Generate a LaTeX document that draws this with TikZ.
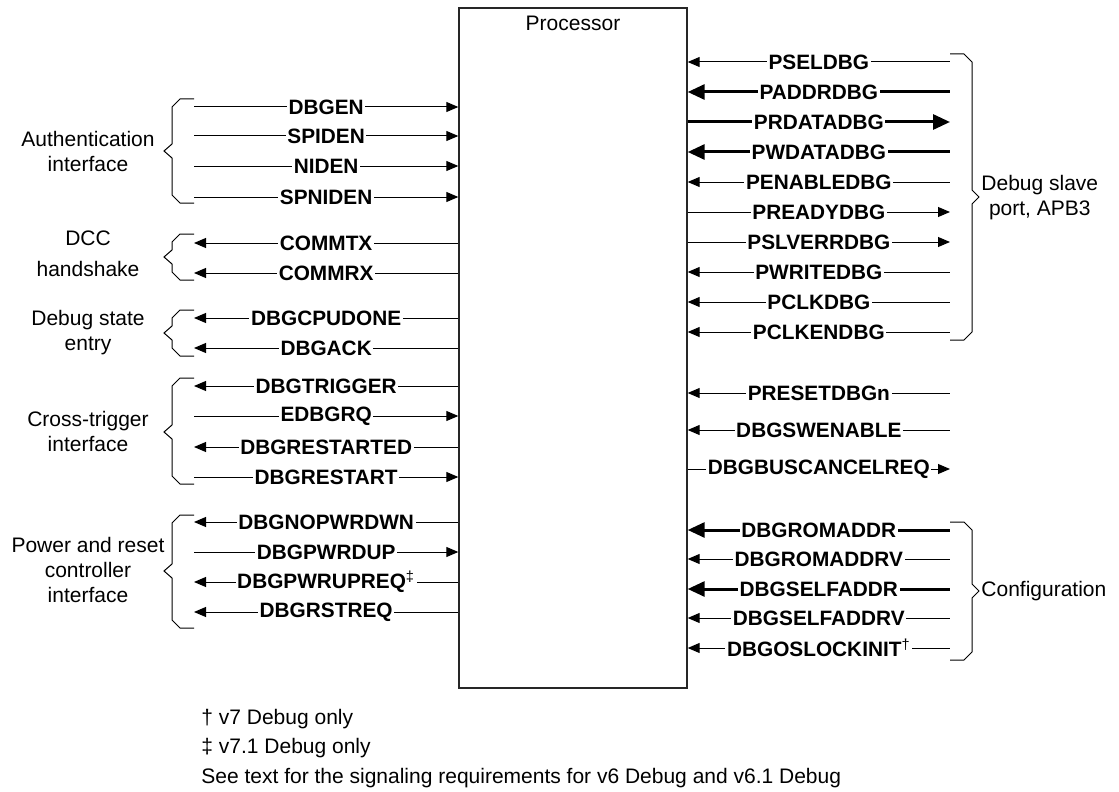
\documentclass[tikz,border=0pt]{standalone}
\usepackage{fontspec}
\setmainfont{Liberation Sans}
\usetikzlibrary{arrows.meta, positioning}

\begin{document}
\begin{tikzpicture}[x=0.5pt, y=-0.5pt, >={Triangle[length=6pt, width=5pt]}]

  % Styles
  \tikzset{
    cpu box/.style={draw=black!85, line width=0.7pt, minimum width=114pt, minimum height=340pt, inner sep=0pt},
    sig/.style={line width=0.5pt},
    bus/.style={line width=1.5pt, >={Triangle[length=8.5pt, width=7.5pt]}},
    sig label/.style={font=\fontsize{10.4}{12}\selectfont\bfseries, fill=white, inner xsep=0.8pt, inner ysep=1pt},
    group label/.style={font=\fontsize{10.5}{12.5}\selectfont, align=center, inner sep=1pt},
    brace line/.style={line width=0.5pt, line join=miter},
    note/.style={font=\fontsize{10.5}{12}\selectfont, anchor=west, inner sep=0pt}
  }

  \useasboundingbox (0,0) rectangle (1119,792);

  % --- PROCESSOR ---
  \node[cpu box] (cpu) at (573,348) {};
  \node[group label, below=3pt of cpu.north] (title) {Processor};

  % --- LEFT SIGNALS ---
  % Authentication interface
  \coordinate (dbgen) at (194,107);
  \coordinate (spiden) at (194,136);
  \coordinate (niden) at (194,166);
  \coordinate (spniden) at (194,197);
  \draw[sig, ->] (dbgen) -- (dbgen -| cpu.west) node[midway, sig label] {DBGEN};
  \draw[sig, ->] (spiden) -- (spiden -| cpu.west) node[midway, sig label] {SPIDEN};
  \draw[sig, ->] (niden) -- (niden -| cpu.west) node[midway, sig label] {NIDEN};
  \draw[sig, ->] (spniden) -- (spniden -| cpu.west) node[midway, sig label] {SPNIDEN};

  % DCC handshake
  \coordinate (commtx) at (194,243);
  \coordinate (commrx) at (194,273);
  \draw[sig, <-] (commtx) -- (commtx -| cpu.west) node[midway, sig label] {COMMTX};
  \draw[sig, <-] (commrx) -- (commrx -| cpu.west) node[midway, sig label] {COMMRX};

  % Debug state entry
  \coordinate (cpudone) at (194,318);
  \coordinate (dbgack) at (194,348);
  \draw[sig, <-] (cpudone) -- (cpudone -| cpu.west) node[midway, sig label] {DBGCPUDONE};
  \draw[sig, <-] (dbgack) -- (dbgack -| cpu.west) node[midway, sig label] {DBGACK};

  % Cross-trigger interface
  \coordinate (trigger) at (194,386);
  \coordinate (edbgrq) at (194,416);
  \coordinate (restarted) at (194,447);
  \coordinate (restart) at (194,477);
  \draw[sig, <-] (trigger) -- (trigger -| cpu.west) node[midway, sig label] {DBGTRIGGER};
  \draw[sig, ->] (edbgrq) -- (edbgrq -| cpu.west) node[midway, sig label] {EDBGRQ};
  \draw[sig, <-] (restarted) -- (restarted -| cpu.west) node[midway, sig label] {DBGRESTARTED};
  \draw[sig, ->] (restart) -- (restart -| cpu.west) node[midway, sig label] {DBGRESTART};

  % Power and reset controller interface
  \coordinate (nopwrdwn) at (194,522);
  \coordinate (pwrdup) at (194,552);
  \coordinate (pwrupreq) at (194,582);
  \coordinate (rstreq) at (194,612);
  \draw[sig, <-] (nopwrdwn) -- (nopwrdwn -| cpu.west) node[midway, sig label] {DBGNOPWRDWN};
  \draw[sig, ->] (pwrdup) -- (pwrdup -| cpu.west) node[midway, sig label] {DBGPWRDUP};
  \draw[sig, <-] (pwrupreq) -- (pwrupreq -| cpu.west) node[midway, sig label] {DBGPWRUPREQ\textsuperscript{\normalfont ‡}};
  \draw[sig, <-] (rstreq) -- (rstreq -| cpu.west) node[midway, sig label] {DBGRSTREQ};

  % --- RIGHT SIGNALS ---
  % Debug slave port
  \coordinate (psel) at (950,62);
  \coordinate (paddr) at (950,92);
  \coordinate (prdata) at (950,122);
  \coordinate (pwdata) at (950,152);
  \coordinate (penable) at (950,182);
  \coordinate (pready) at (950,212);
  \coordinate (pslverr) at (950,242);
  \coordinate (pwrite) at (950,272);
  \coordinate (pclk) at (950,302);
  \coordinate (pclken) at (950,332);
  \draw[sig, <-] (psel -| cpu.east) -- (psel) node[midway, sig label] {PSELDBG};
  \draw[bus, <-] (paddr -| cpu.east) -- (paddr) node[midway, sig label] {PADDRDBG};
  \draw[bus, ->] (prdata -| cpu.east) -- (prdata) node[midway, sig label] {PRDATADBG};
  \draw[bus, <-] (pwdata -| cpu.east) -- (pwdata) node[midway, sig label] {PWDATADBG};
  \draw[sig, <-] (penable -| cpu.east) -- (penable) node[midway, sig label] {PENABLEDBG};
  \draw[sig, ->] (pready -| cpu.east) -- (pready) node[midway, sig label] {PREADYDBG};
  \draw[sig, ->] (pslverr -| cpu.east) -- (pslverr) node[midway, sig label] {PSLVERRDBG};
  \draw[sig, <-] (pwrite -| cpu.east) -- (pwrite) node[midway, sig label] {PWRITEDBG};
  \draw[sig, <-] (pclk -| cpu.east) -- (pclk) node[midway, sig label] {PCLKDBG};
  \draw[sig, <-] (pclken -| cpu.east) -- (pclken) node[midway, sig label] {PCLKENDBG};

  % Ungrouped signals
  \coordinate (presetn) at (950,393);
  \coordinate (swenable) at (950,430);
  \coordinate (buscancel) at (950,469);
  \draw[sig, <-] (presetn -| cpu.east) -- (presetn) node[midway, sig label] {PRESETDBGn};
  \draw[sig, <-] (swenable -| cpu.east) -- (swenable) node[midway, sig label] {DBGSWENABLE};
  \draw[sig, ->] (buscancel -| cpu.east) -- (buscancel) node[midway, sig label] {DBGBUSCANCELREQ};

  % Configuration
  \coordinate (romaddr) at (950,530);
  \coordinate (romaddrv) at (950,559);
  \coordinate (selfaddr) at (950,589);
  \coordinate (selfaddrv) at (950,618);
  \coordinate (oslockinit) at (950,648);
  \draw[bus, <-] (romaddr -| cpu.east) -- (romaddr) node[midway, sig label] {DBGROMADDR};
  \draw[sig, <-] (romaddrv -| cpu.east) -- (romaddrv) node[midway, sig label] {DBGROMADDRV};
  \draw[bus, <-] (selfaddr -| cpu.east) -- (selfaddr) node[midway, sig label] {DBGSELFADDR};
  \draw[sig, <-] (selfaddrv -| cpu.east) -- (selfaddrv) node[midway, sig label] {DBGSELFADDRV};
  \draw[sig, <-] (oslockinit -| cpu.east) -- (oslockinit) node[midway, sig label] {DBGOSLOCKINIT\textsuperscript{\normalfont †}};

  % --- BRACES ---
  \draw[brace line] (194,99) -- (180,99) -- (172,107) -- (172,144) -- (164,151) -- (172,158) -- (172,195) -- (180,203) -- (194,203);
  \draw[brace line] (194,234) -- (180,234) -- (172,242) -- (172,250) -- (164,257) -- (172,264) -- (172,272) -- (180,280) -- (194,280);
  \draw[brace line] (194,310) -- (180,310) -- (172,318) -- (172,326) -- (164,333) -- (172,340) -- (172,348) -- (180,356) -- (194,356);
  \draw[brace line] (194,378) -- (180,378) -- (172,386) -- (172,425) -- (164,432) -- (172,439) -- (172,476) -- (180,484) -- (194,484);
  \draw[brace line] (194,515) -- (180,515) -- (172,523) -- (172,564) -- (164,571) -- (172,578) -- (172,620) -- (180,628) -- (194,628);
  \draw[brace line] (950,54) -- (964,54) -- (972,62) -- (972,190) -- (979,197) -- (972,204) -- (972,332) -- (964,340) -- (950,340);
  \draw[brace line] (950,522) -- (964,522) -- (972,530) -- (972,584) -- (979,591) -- (972,598) -- (972,652) -- (964,660) -- (950,660);

  % --- GROUP LABELS ---
  \node[group label] (auth) at (88,151) {Authentication\\interface};
  \node[group label] (dcc) at (88,254) {DCC\\[3pt]handshake};
  \node[group label] (state) at (88,333) {Debug state\\entry};
  \node[group label] (cross) at (88,431) {Cross-trigger\\interface};
  \node[group label] (power) at (88,570) {Power and reset\\controller\\interface};
  \node[group label, anchor=west] (slave) at (979,198) {Debug slave\\port, APB3};
  \node[group label, anchor=west] (config) at (979,591) {Configuration};

  % --- NOTES ---
  \node[note] (note1) at (201,719) {† v7 Debug only};
  \node[note] (note2) at (201,748) {‡ v7.1 Debug only};
  \node[note] (note3) at (201,778) {See text for the signaling requirements for v6 Debug and v6.1 Debug};

\end{tikzpicture}
\end{document}
